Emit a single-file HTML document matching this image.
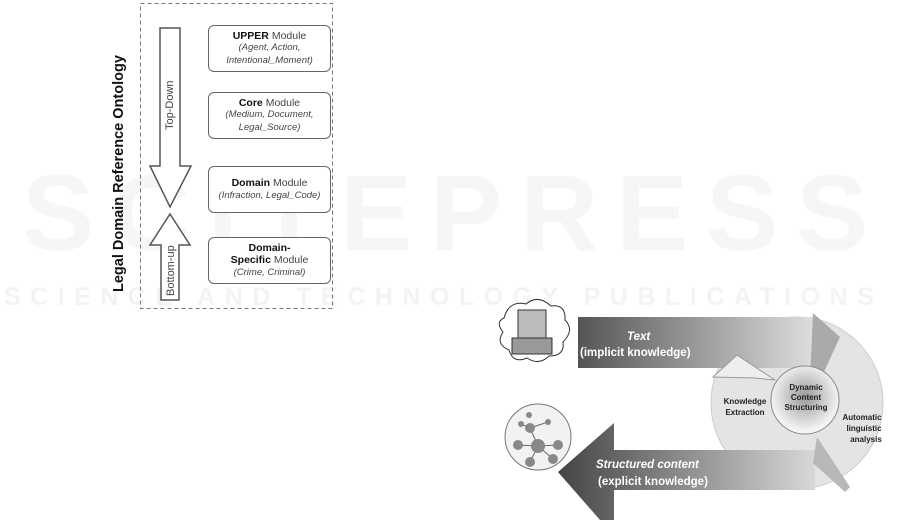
<!DOCTYPE html>
<html><head><style>
body{margin:0;width:901px;height:520px;background:#fff;overflow:hidden;font-family:"Liberation Sans",sans-serif;position:relative}
.wm{position:absolute;font-weight:bold;white-space:nowrap}
.box{position:absolute;left:208px;width:123px;border:1px solid #666;border-radius:6px;background:#fff;text-align:center;font-size:10.5px;line-height:12.5px;color:#444;box-sizing:border-box;display:flex;flex-direction:column;justify-content:center}
.box b{color:#111}
.box i{font-size:9.5px}
</style></head><body>
<div class="wm" style="left:22px;top:150px;font-size:108px;letter-spacing:18px;color:#f6f6f6">SCITEPRESS</div>
<div class="wm" style="left:4px;top:283px;font-size:25px;letter-spacing:9.5px;color:#f3f3f3">SCIENCE AND TECHNOLOGY PUBLICATIONS</div>
<svg width="901" height="520" style="position:absolute;left:0;top:0">
<rect x="140.5" y="3.5" width="192" height="305" fill="none" stroke="#777" stroke-dasharray="4,3"/>
<polygon points="160,28 180,28 180,166 191,166 170,207 150,166 160,166" fill="#fff" stroke="#555" stroke-width="1.5"/>
<polygon points="170,214 190,245 179,245 179,300 161,300 161,245 150,245" fill="#fff" stroke="#555" stroke-width="1.5"/>
<text transform="translate(173,130) rotate(-90)" font-size="11" fill="#444" font-family="Liberation Sans">Top-Down</text>
<text transform="translate(174,296) rotate(-90)" font-size="11" fill="#444" font-family="Liberation Sans">Bottom-up</text>
<text transform="translate(123,292) rotate(-90)" font-size="14.5" font-weight="bold" fill="#111" font-family="Liberation Sans">Legal Domain Reference Ontology</text>
<defs>
<linearGradient id="g1" x1="0" x2="1"><stop offset="0" stop-color="#555"/><stop offset="1" stop-color="#ddd"/></linearGradient>
<linearGradient id="g2" x1="0" x2="1"><stop offset="0" stop-color="#444"/><stop offset="1" stop-color="#d8d8d8"/></linearGradient>
<radialGradient id="g3" cx="0.5" cy="0.45" r="0.5"><stop offset="0" stop-color="#999"/><stop offset="1" stop-color="#f4f4f4"/></radialGradient>
</defs>
<circle cx="797" cy="403" r="86" fill="#e4e4e4" stroke="#ccc"/>
<rect x="578" y="317" width="235" height="51" fill="url(#g1)"/>
<polygon points="558,472 614,423 614,450 815,450 815,490 614,490 614,520 600,520" fill="url(#g2)"/>
<polygon points="813,313 840,337 817,387 810,380" fill="#aaa"/>
<polygon points="817,437 850,487 845,492 813,463" fill="#b8b8b8"/>
<polygon points="713,377 737,355 775,380 755,378" fill="#eee" stroke="#999"/>
<circle cx="805" cy="400" r="34" fill="url(#g3)" stroke="#888"/>
<g font-family="Liberation Sans" font-weight="bold" font-size="8" fill="#222" text-anchor="middle">
<text x="806" y="390">Dynamic</text><text x="806" y="400">Content</text><text x="806" y="410">Structuring</text>
<text x="745" y="404">Knowledge</text><text x="745" y="415">Extraction</text>
<text x="862" y="420">Automatic</text><text x="864" y="431">linguistic</text><text x="866" y="442">analysis</text>
</g>
<g font-family="Liberation Sans" font-weight="bold" fill="#fff" font-size="11.5">
<text x="627" y="340" font-style="italic">Text</text><text x="580" y="356">(implicit knowledge)</text>
<text x="596" y="468" font-style="italic">Structured content</text><text x="598" y="485">(explicit knowledge)</text>
</g>
<path d="M504,318 q5,-18 22,-14 q12,-10 25,2 q15,-2 14,14 q10,10 -2,22 q2,14 -14,14 q-10,10 -22,2 q-14,6 -18,-8 q-14,-6 -6,-18 q-8,-10 1,-14z" fill="#fff" stroke="#333"/>
<rect x="518" y="310" width="28" height="34" fill="#bbb" stroke="#333"/>
<rect x="512" y="338" width="40" height="16" fill="#999" stroke="#333"/>
<circle cx="538" cy="437" r="33" fill="#f2f2f2" stroke="#777"/>
<g stroke="#666"><line x1="538" y1="446" x2="518" y2="445"/><line x1="538" y1="446" x2="558" y2="445"/><line x1="538" y1="446" x2="530" y2="428"/><line x1="538" y1="446" x2="530" y2="462"/><line x1="538" y1="446" x2="553" y2="459"/><line x1="530" y1="428" x2="548" y2="422"/><line x1="530" y1="428" x2="521" y2="424"/></g>
<g fill="#888"><circle cx="538" cy="446" r="7"/><circle cx="518" cy="445" r="5"/><circle cx="558" cy="445" r="5"/><circle cx="530" cy="428" r="5"/><circle cx="530" cy="462" r="5"/><circle cx="553" cy="459" r="5"/><circle cx="548" cy="422" r="3"/><circle cx="521" cy="424" r="3"/><circle cx="529" cy="415" r="3"/></g>
</svg>
<div class="box" style="top:25px;height:47px"><div><b>UPPER</b> Module</div><i>(Agent, Action,<br>Intentional_Moment)</i></div>
<div class="box" style="top:92px;height:47px"><div><b>Core</b> Module</div><i>(Medium, Document,<br>Legal_Source)</i></div>
<div class="box" style="top:166px;height:47px"><div><b>Domain</b> Module</div><i>(Infraction, Legal_Code)</i></div>
<div class="box" style="top:237px;height:47px"><div><b>Domain-</b></div><div><b>Specific</b> Module</div><i>(Crime, Criminal)</i></div>
</body></html>
